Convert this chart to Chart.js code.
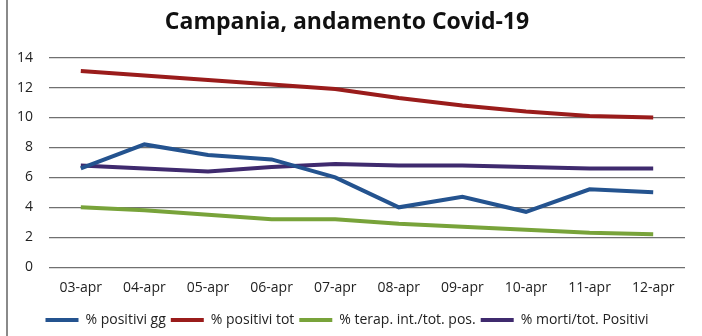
<!DOCTYPE html>
<html>
<head>
<meta charset="utf-8">
<script src="https://cdn.jsdelivr.net/npm/chart.js@4.4.1/dist/chart.umd.min.js"></script>
<style>
  html, body { margin: 0; padding: 0; background: #fff; }
  #wrap { position: relative; width: 702px; height: 336px; }
  #frame { position: absolute; left: 6px; top: 0; width: 2px; height: 336px; background: #8a8a8a; }
  canvas { position: absolute; left: 0; top: 0; }
</style>
</head>
<body>
<div id="wrap">
  <div id="frame"></div>
  <canvas id="covidChart" width="702" height="336"></canvas>
</div>
<script>
// Daily percentages, Campania region
const days = ['03-apr', '04-apr', '05-apr', '06-apr', '07-apr', '08-apr', '09-apr', '10-apr', '11-apr', '12-apr'];
const positiviGg = [6.6, 8.2, 7.5, 7.2, 6.0, 4.0, 4.7, 3.7, 5.2, 5.0];
const positiviTot = [13.1, 12.8, 12.5, 12.2, 11.9, 11.3, 10.8, 10.4, 10.1, 10.0];
const terapInt = [4.0, 3.8, 3.5, 3.2, 3.2, 2.9, 2.7, 2.5, 2.3, 2.2];
const mortiTot = [6.8, 6.6, 6.4, 6.7, 6.9, 6.8, 6.8, 6.7, 6.6, 6.6];
const yTicks = [0, 2, 4, 6, 8, 10, 12, 14];

const FONT = '"Open Sans", sans-serif';

function series(label, data, color) {
    return {
        label: label,
        data: data,
        borderColor: color,
        backgroundColor: color,
        borderWidth: 4,
        pointRadius: 0,
        pointStyle: 'line',
        tension: 0,
        fill: false
    };
}

new Chart(document.getElementById('covidChart'), {
    type: 'line',
    data: {
        labels: days,
        datasets: [
            series('% positivi gg', positiviGg, '#24538f'),
            series('% positivi tot', positiviTot, '#9a1c1b'),
            series('% terap. int./tot. pos.', terapInt, '#78a33a'),
            series('% morti/tot. Positivi', mortiTot, '#3f2a6e')
        ]
    },
    options: {
        responsive: false,
        animation: false,
        layout: {
            padding: { left: 9, right: 17, top: 9, bottom: -1 }
        },
        plugins: {
            title: {
                display: true,
                text: 'Campania, andamento Covid-19',
                color: '#111',
                font: { family: FONT, size: 23, weight: 'bold' },
                padding: { top: 0, bottom: 21 }
            },
            legend: {
                position: 'bottom',
                labels: {
                    usePointStyle: true,
                    pointStyleWidth: 33,
                    boxHeight: 4,
                    padding: 5,
                    color: '#222',
                    font: { family: FONT, size: 14 }
                }
            },
            tooltip: { enabled: false }
        },
        scales: {
            x: {
                offset: true,
                grid: { display: false, drawTicks: false },
                border: { display: false },
                ticks: {
                    color: '#222',
                    padding: 12,
                    maxRotation: 0,
                    font: { family: FONT, size: 14 }
                }
            },
            y: {
                min: 0,
                max: 14,
                afterBuildTicks: scale => {
                    scale.ticks = yTicks.map(v => ({ value: v }));
                },
                afterFit: scale => {
                    scale.width = 40;
                },
                grid: { color: '#707070', lineWidth: 1.2, drawTicks: false },
                border: { display: false },
                ticks: {
                    color: '#222',
                    padding: 16,
                    font: { family: FONT, size: 14 }
                }
            }
        }
    }
});
</script>
</body>
</html>
